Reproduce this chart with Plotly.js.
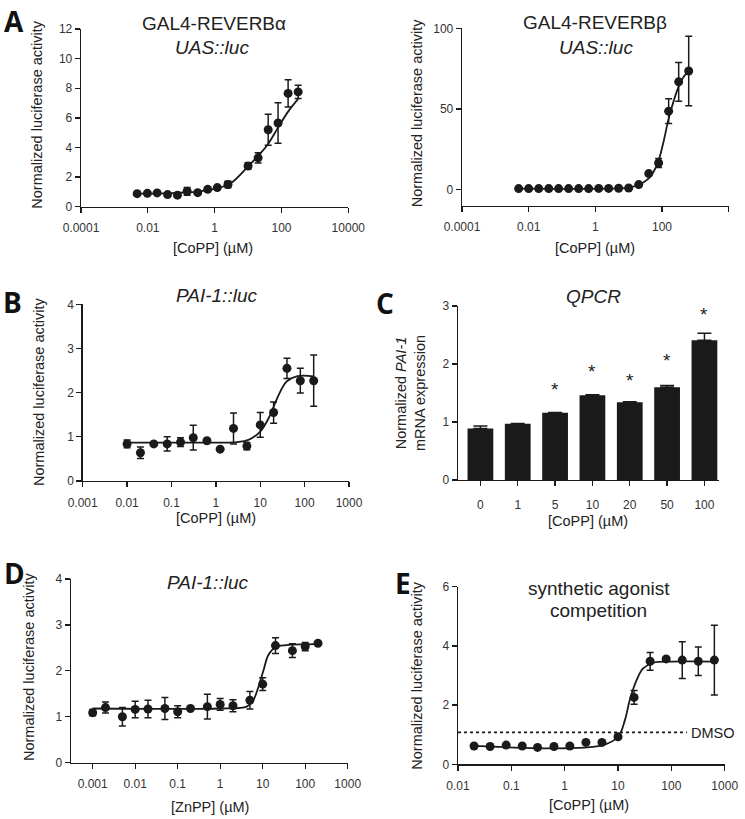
<!DOCTYPE html>
<html><head><meta charset="utf-8">
<script src="https://cdn.plot.ly/plotly-3.0.1.min.js"></script>
<style>html,body{margin:0;padding:0;background:#fff}#plot{width:745px;height:819px}</style>
</head><body><div id="plot"></div>
<script>
// ---------- DATA ----------
// Panel A left: GAL4-REVERBα
const aAlphaConc = [0.0048, 0.0097, 0.019, 0.039, 0.077, 0.15, 0.31, 0.62, 1.2, 2.5, 10, 20, 40, 79, 158, 316];
const aAlphaVal  = [0.88, 0.9, 0.93, 0.82, 0.78, 1.04, 0.95, 1.17, 1.29, 1.5, 2.75, 3.3, 5.2, 5.65, 7.65, 7.75];
const aAlphaErr  = [0, 0, 0, 0, 0, 0.26, 0, 0, 0, 0.22, 0.22, 0.35, 1.05, 1.37, 0.92, 0.45];
const aAlphaFitX = [0.0048, 0.05, 0.3, 1, 3, 10, 21, 38, 79, 158, 316];
const aAlphaFitY = [0.88, 0.92, 1.02, 1.2, 1.58, 2.72, 3.49, 4.17, 5.34, 6.42, 7.28];

// Panel A right: GAL4-REVERBβ
const aBetaConc = [0.005, 0.01, 0.02, 0.04, 0.079, 0.158, 0.316, 0.63, 1.26, 2.5, 5, 10, 20, 40, 79, 158, 316, 631];
const aBetaVal  = [0.6, 0.6, 0.6, 0.6, 0.6, 0.6, 0.6, 0.6, 0.7, 0.7, 0.8, 1.0, 3.1, 9.9, 16.5, 48.6, 66.8, 73.5];
const aBetaErr  = [0, 0, 0, 0, 0, 0, 0, 0, 0, 0, 0, 0, 0, 0, 2.8, 7.7, 12, 21.5];
const aBetaFitX = [0.005, 5, 10, 20, 28, 40, 56, 79, 112, 158, 224, 316, 447, 631];
const aBetaFitY = [0.6, 0.7, 1.2, 3.0, 4.6, 7.0, 11, 18, 30, 44, 55, 64, 70, 73.5];

// Panel B: PAI-1::luc, CoPP
const bConc = [0.01, 0.02, 0.04, 0.08, 0.16, 0.31, 0.63, 1.25, 2.5, 5, 10, 20, 40, 80, 160];
const bVal  = [0.84, 0.64, 0.84, 0.84, 0.88, 0.98, 0.91, 0.72, 1.19, 0.79, 1.27, 1.55, 2.55, 2.27, 2.27];
const bErr  = [0.09, 0.13, 0, 0.16, 0.1, 0.28, 0, 0, 0.35, 0.08, 0.28, 0.24, 0.23, 0.28, 0.58];
const bFitX = [0.01, 1, 3, 5.4, 10, 16, 25, 39, 66, 160];
const bFitY = [0.87, 0.87, 0.88, 0.93, 1.12, 1.45, 1.91, 2.25, 2.37, 2.37];

// Panel C: QPCR
const cCats = ['0', '1', '5', '10', '20', '50', '100'];
const cVal  = [0.89, 0.97, 1.16, 1.46, 1.34, 1.60, 2.41];
const cErr  = [0.04, 0.005, 0.005, 0.01, 0.01, 0.03, 0.12];
const cStarCats = ['5', '10', '20', '50', '100'];
const cStarY    = [1.63, 1.94, 1.79, 2.13, 2.93];

// Panel D: PAI-1::luc, ZnPP
const dConc = [0.001, 0.002, 0.005, 0.01, 0.02, 0.05, 0.1, 0.2, 0.5, 1, 2, 5, 10, 20, 50, 100, 200];
const dVal  = [1.09, 1.2, 1.0, 1.16, 1.17, 1.18, 1.11, 1.18, 1.22, 1.27, 1.24, 1.36, 1.71, 2.55, 2.44, 2.53, 2.6];
const dErr  = [0.07, 0.12, 0.2, 0.18, 0.19, 0.24, 0.13, 0, 0.27, 0.13, 0.13, 0.19, 0.14, 0.17, 0.15, 0.09, 0];
const dFitX = [0.001, 1, 4.2, 6, 8, 10.5, 13.5, 19.5, 36, 200];
const dFitY = [1.18, 1.18, 1.22, 1.36, 1.66, 2.02, 2.34, 2.51, 2.56, 2.58];

// Panel E: synthetic agonist competition
const eConc = [0.02, 0.04, 0.08, 0.16, 0.31, 0.63, 1.25, 2.5, 5, 10, 20, 40, 80, 160, 320, 640];
const eVal  = [0.62, 0.6, 0.65, 0.62, 0.57, 0.6, 0.62, 0.74, 0.74, 0.93, 2.26, 3.48, 3.56, 3.52, 3.48, 3.52];
const eErr  = [0, 0, 0, 0, 0, 0, 0, 0, 0, 0, 0.23, 0.3, 0, 0.62, 0.48, 1.18];
const eFitX = [0.02, 5, 10, 13.5, 16.6, 22.4, 29.5, 45.7, 100, 640];
const eFitY = [0.62, 0.64, 0.93, 1.5, 2.17, 2.85, 3.24, 3.43, 3.47, 3.47];
const dmsoX = [0.01, 195];
const dmsoY = [1.08, 1.08];

// Tick labels
const tickA = [0.0001, 0.01, 1, 100, 10000];
const tickAText = ['0.0001', '0.01', '1', '100', '10000'];
const tickBD = [0.001, 0.01, 0.1, 1, 10, 100, 1000];
const tickBDText = ['0.001', '0.01', '0.1', '1', '10', '100', '1000'];
const tickE = [0.01, 0.1, 1, 10, 100, 1000];
const tickEText = ['0.01', '0.1', '1', '10', '100', '1000'];

// ---------- LAYOUT HELPERS ----------
const W = 745, H = 819;
const FONT = 'Liberation Sans, Arial, sans-serif';
const INK = '#1a1a1a';
const fx = p => p / W;
const fy = p => 1 - p / H;

function axisBase(extra) {
  return Object.assign({
    showline: true, linecolor: INK, linewidth: 1.3,
    ticks: 'outside', ticklen: 5, tickwidth: 1.3, tickcolor: INK,
    showgrid: false, zeroline: false,
    tickfont: {family: FONT, size: 12, color: '#333'},
    fixedrange: true
  }, extra);
}
function xAxis(extra) { return axisBase(Object.assign({ticklabelstandoff: 5}, extra)); }

const markerStyle = {color: INK, size: 9, symbol: 'circle'};
function errStyle(arr) {
  return {type: 'data', array: arr, visible: true, color: INK, thickness: 1.5, width: 3.5};
}
function pts(x, y, e, xa, ya) {
  return {x: x, y: y, xaxis: xa, yaxis: ya, type: 'scatter', mode: 'markers',
    marker: markerStyle, error_y: errStyle(e), hoverinfo: 'skip', showlegend: false};
}
function fit(x, y, xa, ya) {
  return {x: x, y: y, xaxis: xa, yaxis: ya, type: 'scatter', mode: 'lines',
    line: {color: INK, width: 1.8, shape: 'spline', smoothing: 1}, hoverinfo: 'skip', showlegend: false};
}

const traces = [
  fit(aAlphaFitX, aAlphaFitY, 'x', 'y'),
  pts(aAlphaConc, aAlphaVal, aAlphaErr, 'x', 'y'),
  fit(aBetaFitX, aBetaFitY, 'x2', 'y2'),
  pts(aBetaConc, aBetaVal, aBetaErr, 'x2', 'y2'),
  fit(bFitX, bFitY, 'x3', 'y3'),
  pts(bConc, bVal, bErr, 'x3', 'y3'),
  {x: cCats, y: cVal, xaxis: 'x4', yaxis: 'y4', type: 'bar', width: 0.69,
   marker: {color: INK, line: {width: 0}},
   error_y: {type: 'data', symmetric: false, array: cErr, arrayminus: cVal.map(() => 0),
             visible: true, color: INK, thickness: 1.5, width: 7},
   hoverinfo: 'skip', showlegend: false},
  fit(dFitX, dFitY, 'x5', 'y5'),
  pts(dConc, dVal, dErr, 'x5', 'y5'),
  {x: dmsoX, y: dmsoY, xaxis: 'x6', yaxis: 'y6', type: 'scatter', mode: 'lines',
   line: {color: INK, width: 1.6, dash: 'dot'}, hoverinfo: 'skip', showlegend: false},
  fit(eFitX, eFitY, 'x6', 'y6'),
  pts(eConc, eVal, eErr, 'x6', 'y6')
];

const layout = {
  width: W, height: H,
  margin: {l: 0, r: 0, t: 0, b: 0, pad: 0},
  paper_bgcolor: '#fff', plot_bgcolor: 'rgba(0,0,0,0)',
  showlegend: false,
  font: {family: FONT, color: '#222'},
  // A left
  xaxis: xAxis({domain: [fx(81), fx(348.3)], anchor: 'y', type: 'log', range: [-4, 4],
    tickvals: tickA, ticktext: tickAText}),
  yaxis: axisBase({domain: [fy(206.7), fy(29)], anchor: 'x', range: [0, 12], tickvals: [0, 2, 4, 6, 8, 10, 12]}),
  // A right
  xaxis2: xAxis({domain: [fx(462), fx(728.7)], anchor: 'y2', type: 'log', range: [-4, 4],
    tickvals: tickA, ticktext: tickAText}),
  yaxis2: axisBase({domain: [fy(205.7), fy(28.3)], anchor: 'x2', range: [-10, 100], tickvals: [0, 50, 100]}),
  // B
  xaxis3: xAxis({domain: [fx(82.7), fx(349)], anchor: 'y3', type: 'log', range: [-3, 3],
    tickvals: tickBD, ticktext: tickBDText}),
  yaxis3: axisBase({domain: [fy(481), fy(304.3)], anchor: 'x3', range: [0, 4], tickvals: [0, 1, 2, 3, 4]}),
  // C
  xaxis4: xAxis({domain: [fx(458), fx(719)], anchor: 'y4', type: 'category', range: [-0.6, 6.39],
    categoryorder: 'array', categoryarray: cCats, ticklabelstandoff: 8}),
  yaxis4: axisBase({domain: [fy(480), fy(306)], anchor: 'x4', range: [0, 3], tickvals: [0, 1, 2, 3]}),
  // D
  xaxis5: xAxis({domain: [fx(71), fx(347.7)], anchor: 'y5', type: 'log', range: [-3.51, 3],
    tickvals: tickBD, ticktext: tickBDText}),
  yaxis5: axisBase({domain: [fy(762.7), fy(579)], anchor: 'x5', range: [0, 4], tickvals: [0, 1, 2, 3, 4]}),
  // E
  xaxis6: xAxis({domain: [fx(458), fx(724.7)], anchor: 'y6', type: 'log', range: [-2, 3],
    tickvals: tickE, ticktext: tickEText}),
  yaxis6: axisBase({domain: [fy(764.3), fy(586.7)], anchor: 'x6', range: [0, 6], tickvals: [0, 2, 4, 6]}),
  annotations: []
};

function note(text, x, y, size, opts) {
  layout.annotations.push(Object.assign({
    text: text, xref: 'paper', yref: 'paper', x: fx(x), y: fy(y),
    xanchor: 'center', yanchor: 'middle', showarrow: false,
    font: {family: FONT, size: size, color: '#222'}
  }, opts || {}));
}

// Panel letters
const LETTER_FONT = {family: 'Open Sans, Liberation Sans, Arial, sans-serif', size: 28, color: '#111', weight: 700};
note('<b>A</b>', 14, 0, 28, {font: LETTER_FONT, yanchor: 'top'});
[['B', 12.5, 301.7], ['C', 385, 302.5], ['D', 14.5, 573], ['E', 403, 582.5]].forEach(l => {
  note('<b>' + l[0] + '</b>', l[1], l[2], 28, {font: LETTER_FONT});
});

// Panel titles
note('GAL4-REVERBα', 214, 23, 19);
note('<i>UAS::luc</i>', 212, 47, 19);
note('GAL4-REVERBβ', 595.3, 22, 19);
note('<i>UAS::luc</i>', 595.8, 47, 19);
note('<i>PAI-1::luc</i>', 216.7, 295, 19);
note('<i>QPCR</i>', 593.7, 296.7, 19);
note('<i>PAI-1::luc</i>', 207.5, 582.7, 19);
note('synthetic agonist', 598.7, 588, 19);
note('competition', 598.7, 610, 19);

// Axis titles
const YT = 'Normalized luciferase activity';
note(YT, 36.7, 114, 14.5, {textangle: -90});
note(YT, 417, 113.3, 14.5, {textangle: -90});
note(YT, 38.3, 391.7, 14.5, {textangle: -90});
note(YT, 28.3, 666.7, 14.5, {textangle: -90});
note(YT, 417, 675.7, 14.5, {textangle: -90});
note('Normalized <i>PAI-1</i><br>mRNA expression', 410, 393, 14.5, {textangle: -90});
note('[CoPP] (µM)', 213, 248, 14.5);
note('[CoPP] (µM)', 594.5, 248.3, 14.5);
note('[CoPP] (µM)', 215.8, 518.3, 14.5);
note('[CoPP] (µM)', 587.8, 520.7, 14.5);
note('[ZnPP] (µM)', 210, 806.7, 14.5);
note('[CoPP] (µM)', 588.7, 805, 14.5);

// DMSO label
note('DMSO', 689, 733, 14.5, {xanchor: 'left'});

// Significance stars (data coordinates in panel C)
cStarCats.forEach((c, i) => {
  layout.annotations.push({text: '*', xref: 'x4', yref: 'y4', x: cCats.indexOf(c), y: cStarY[i],
    xanchor: 'center', yanchor: 'middle', yshift: -4, showarrow: false,
    font: {family: FONT, size: 19, color: '#222'}});
});

Plotly.newPlot('plot', traces, layout, {staticPlot: true, displayModeBar: false});
</script>
</body></html>
